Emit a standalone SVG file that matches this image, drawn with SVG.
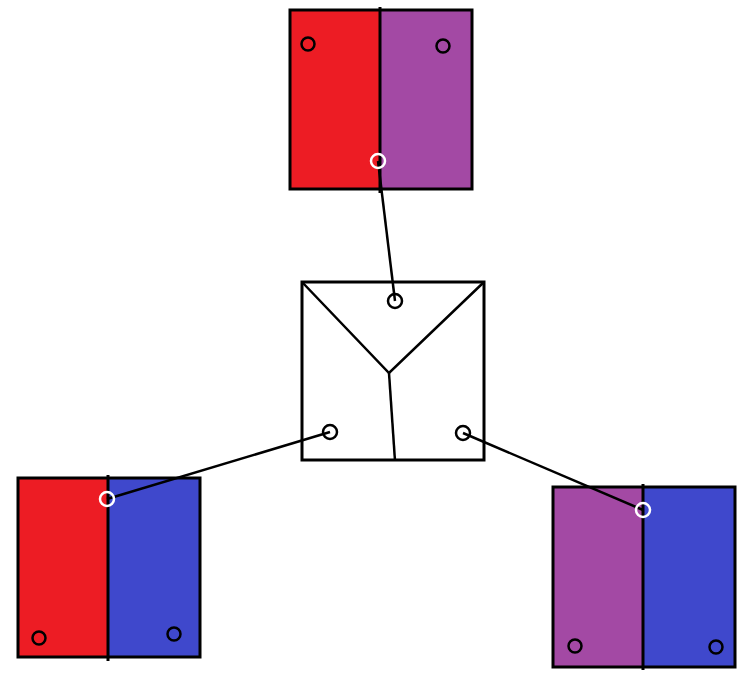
<svg xmlns="http://www.w3.org/2000/svg" width="748" height="683" viewBox="0 0 748 683">
<style>
.box{stroke:#000;stroke-width:3;fill:none}
.div{stroke:#000;stroke-width:3}
.pin{fill:none;stroke:#000;stroke-width:2.5}
.wpin{fill:none;stroke:#fff;stroke-width:2.5}
.wire{stroke:#000;stroke-width:2.5;fill:none}
.red{fill:#ED1C24}
.pur{fill:#A349A4}
.blu{fill:#3F48CC}
</style>
<rect width="748" height="683" fill="#fff"/>
<g id="top">
<rect class="red" x="290" y="10" width="90" height="179"/>
<rect class="pur" x="380" y="10" width="92" height="179"/>
<rect class="box" x="290" y="10" width="182" height="179"/>
<line class="div" x1="380" y1="7" x2="380" y2="193"/>
<circle class="pin" cx="308" cy="44" r="6.5"/>
<circle class="pin" cx="443" cy="46" r="6.5"/>
</g>
<g id="center">
<rect class="box" x="302" y="282" width="182" height="178" fill="#fff"/>
<polyline class="wire" points="302,282 389,373 484,282"/>
<line class="wire" x1="389" y1="373" x2="395" y2="461"/>
<circle class="pin" cx="395" cy="301" r="7"/>
<circle class="pin" cx="330" cy="432" r="7"/>
<circle class="pin" cx="463" cy="433" r="7"/>
</g>
<g id="bottomleft">
<rect class="red" x="18" y="478" width="90" height="179"/>
<rect class="blu" x="108" y="478" width="92" height="179"/>
<rect class="box" x="18" y="478" width="182" height="179"/>
<line class="div" x1="108" y1="475" x2="108" y2="661"/>
<circle class="pin" cx="39" cy="638" r="6.5"/>
<circle class="pin" cx="174" cy="634" r="6.5"/>
</g>
<g id="bottomright">
<rect class="pur" x="553" y="487" width="90" height="180"/>
<rect class="blu" x="643" y="487" width="92" height="180"/>
<rect class="box" x="553" y="487" width="182" height="180"/>
<line class="div" x1="643" y1="484" x2="643" y2="670"/>
<circle class="pin" cx="575" cy="646" r="6.5"/>
<circle class="pin" cx="716" cy="647" r="6.5"/>
</g>
<g id="connectors">
<line class="wire" x1="378" y1="161" x2="395" y2="301"/>
<line class="wire" x1="330" y1="432" x2="107" y2="499"/>
<line class="wire" x1="463" y1="433" x2="643" y2="510"/>
<circle class="wpin" cx="378" cy="161" r="7"/>
<circle class="wpin" cx="107" cy="499" r="7"/>
<circle class="wpin" cx="643" cy="510" r="7"/>
</g>
</svg>
